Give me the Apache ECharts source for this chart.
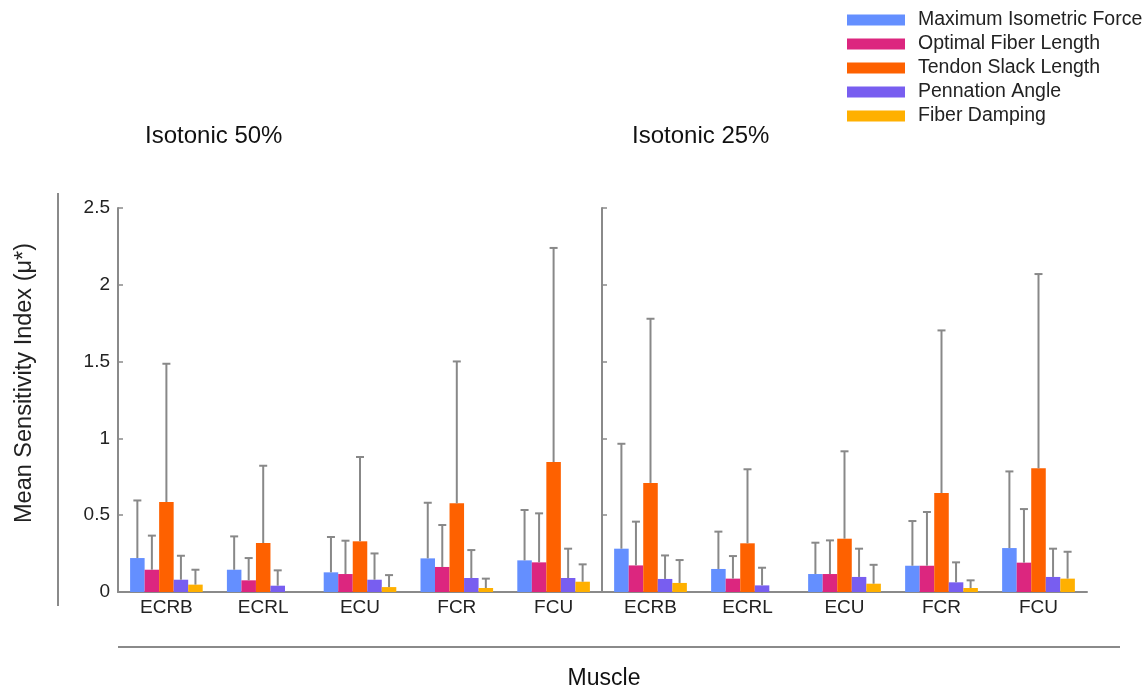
<!DOCTYPE html>
<html>
<head>
<meta charset="utf-8">
<script src="https://cdn.jsdelivr.net/npm/echarts@6/dist/echarts.min.js"></script>
<style>html,body{margin:0;padding:0;background:#fff}#c{width:1146px;height:685px}</style>
</head>
<body>
<div id="c"></div>
<script>
const categories = ['ECRB', 'ECRL', 'ECU', 'FCR', 'FCU'];
const seriesNames = ['Maximum Isometric Force', 'Optimal Fiber Length', 'Tendon Slack Length', 'Pennation Angle', 'Fiber Damping'];
const colors = ['#648FFF', '#DC267F', '#FE6100', '#785EF0', '#FFB000'];
const panelTitles = ['Isotonic 50%', 'Isotonic 25%'];
const yTicks = [0, 0.5, 1, 1.5, 2, 2.5];

// Isotonic 50%: means and upper error-bar ends, per parameter, per muscle
const iso50Mean = [
  [0.221, 0.145, 0.128, 0.219, 0.206],
  [0.145, 0.076, 0.117, 0.163, 0.193],
  [0.586, 0.319, 0.330, 0.577, 0.846],
  [0.080, 0.041, 0.080, 0.091, 0.091],
  [0.048, 0.000, 0.032, 0.026, 0.067]
];
const iso50Upper = [
  [0.596, 0.362, 0.358, 0.581, 0.534],
  [0.367, 0.221, 0.334, 0.436, 0.512],
  [1.486, 0.822, 0.879, 1.501, 2.240],
  [0.236, 0.141, 0.251, 0.273, 0.282],
  [0.145, null, 0.110, 0.087, 0.180]
];
// Isotonic 25%
const iso25Mean = [
  [0.282, 0.150, 0.117, 0.171, 0.286],
  [0.173, 0.087, 0.117, 0.171, 0.191],
  [0.710, 0.317, 0.347, 0.644, 0.805],
  [0.085, 0.043, 0.098, 0.063, 0.098],
  [0.059, 0.000, 0.054, 0.026, 0.087]
];
const iso25Upper = [
  [0.965, 0.393, 0.321, 0.462, 0.785],
  [0.458, 0.234, 0.336, 0.521, 0.540],
  [1.779, 0.799, 0.916, 1.703, 2.070],
  [0.238, 0.158, 0.282, 0.193, 0.282],
  [0.208, null, 0.177, 0.076, 0.262]
];

const FONT = '"Liberation Sans", Arial, sans-serif';
const AX = '#8a8a8a';
const panels = [[iso50Mean, iso50Upper], [iso25Mean, iso25Upper]];

const grids = [
  {left: 118, top: 208, width: 484, height: 384},
  {left: 602, top: 208, width: 485, height: 384}
];
const xAxes = [], yAxes = [], series = [];
panels.forEach((p, g) => {
  xAxes.push({
    type: 'category', gridIndex: g, data: categories,
    axisLine: {lineStyle: {color: AX, width: 2}},
    axisTick: {inside: true, alignWithLabel: true, length: 5, lineStyle: {color: AX, width: 1.5}},
    axisLabel: {color: '#222', fontSize: 19, fontFamily: FONT, margin: 6}
  });
  yAxes.push({
    type: 'value', gridIndex: g, min: 0, max: 2.5, interval: 0.5,
    splitLine: {show: false},
    axisLine: {show: true, lineStyle: {color: AX, width: 2}},
    axisTick: {show: true, inside: true, length: 5, lineStyle: {color: AX, width: 1.5}},
    axisLabel: {show: g === 0, color: '#222', fontSize: 19, fontFamily: FONT, margin: 8,
      customValues: yTicks}
  });
  const [means, uppers] = p;
  means.forEach((vals, s) => {
    series.push({
      type: 'bar', name: seriesNames[s], xAxisIndex: g, yAxisIndex: g,
      data: vals, barGap: '0%', barCategoryGap: '25%',
      itemStyle: {color: colors[s]}, emphasis: {disabled: true}
    });
  });
  means.forEach((vals, s) => {
    const data = [];
    vals.forEach((v, i) => { if (uppers[s][i] != null) data.push([i, v, uppers[s][i]]); });
    series.push({
      type: 'custom', xAxisIndex: g, yAxisIndex: g, z: 5, silent: true,
      encode: {x: 0, y: [1, 2]},
      data: data,
      renderItem: (params, api) => {
        const cat = api.value(0), v = api.value(1), hi = api.value(2);
        const base = api.coord([cat, v]);
        const top = api.coord([cat, hi]);
        const band = api.size([1, 0])[0];
        const x = base[0] - band * 0.375 + band * 0.15 * (s + 0.5);
        const st = {stroke: '#888', lineWidth: 2};
        return {type: 'group', children: [
          {type: 'line', shape: {x1: x, y1: base[1], x2: x, y2: top[1]}, style: st},
          {type: 'line', shape: {x1: x - 4, y1: top[1], x2: x + 4, y2: top[1]}, style: st}
        ]};
      }
    });
  });
});

const chart = echarts.init(document.getElementById('c'));
chart.setOption({
  animation: false,
  backgroundColor: '#fff',
  textStyle: {fontFamily: FONT},
  legend: {
    data: seriesNames, orient: 'vertical', left: 842, top: 5,
    icon: 'rect', itemWidth: 58, itemHeight: 11, itemGap: 4,
    textStyle: {color: '#222', fontSize: 19.5, fontFamily: FONT, padding: [0, 0, 0, 8]},
    selectedMode: false
  },
  title: [
    {text: panelTitles[0], left: 140, top: 119, textStyle: {color: '#111', fontSize: 24, fontWeight: 'normal', fontFamily: FONT}},
    {text: panelTitles[1], left: 627, top: 119, textStyle: {color: '#111', fontSize: 24, fontWeight: 'normal', fontFamily: FONT}},
    {text: 'Muscle', left: 599, top: 662, textAlign: 'center', textStyle: {color: '#111', fontSize: 23, fontWeight: 'normal', fontFamily: FONT}}
  ],
  grid: grids,
  xAxis: xAxes,
  yAxis: yAxes,
  series: series,
  graphic: [
    {type: 'line', shape: {x1: 58, y1: 193, x2: 58, y2: 606}, style: {stroke: AX, lineWidth: 2}},
    {type: 'line', shape: {x1: 118, y1: 647, x2: 1120, y2: 647}, style: {stroke: AX, lineWidth: 2}},
    {type: 'text', x: 25, y: 383, rotation: Math.PI / 2,
      style: {text: 'Mean Sensitivity Index (μ*)', fill: '#222', fontSize: 23.5, fontFamily: FONT,
        align: 'center', verticalAlign: 'middle'}}
  ]
});
</script>
</body>
</html>
